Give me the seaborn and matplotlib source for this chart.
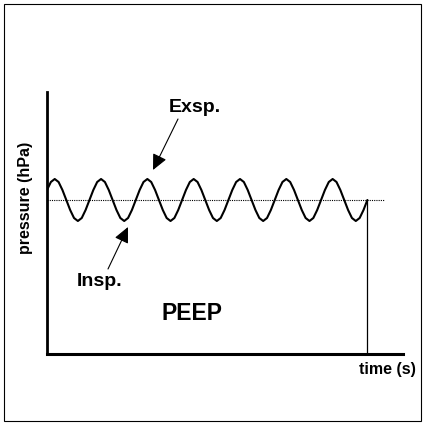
import matplotlib
matplotlib.use("Agg")
import matplotlib.pyplot as plt
import numpy as np
import pandas as pd
import seaborn as sns
from matplotlib.patches import Rectangle

# airway pressure samples, 12 per breath (hPa)
pressure = [16.4, 17.2,
            17.5, 17.2, 16.4, 15.4, 14.4, 13.6, 13.3, 13.6, 14.4, 15.4, 16.4, 17.2,
            17.5, 17.2, 16.4, 15.4, 14.4, 13.6, 13.3, 13.6, 14.4, 15.4, 16.4, 17.2,
            17.5, 17.2, 16.4, 15.4, 14.4, 13.6, 13.3, 13.6, 14.4, 15.4, 16.4, 17.2,
            17.5, 17.2, 16.4, 15.4, 14.4, 13.6, 13.3, 13.6, 14.4, 15.4, 16.4, 17.2,
            17.5, 17.2, 16.4, 15.4, 14.4, 13.6, 13.3, 13.6, 14.4, 15.4, 16.4, 17.2,
            17.5, 17.2, 16.4, 15.4, 14.4, 13.6, 13.3, 13.6, 14.4, 15.4, 16.4, 17.2,
            17.5, 17.2, 16.4, 15.4, 14.4, 13.6, 13.3, 13.6, 14.4, 15.4]
sample_step = 0.386          # s between samples
peep_level = 15.4            # hPa, dotted baseline
peep_end = 33.7              # s, where the dotted line stops
x_max = 35.6
y_max = 26.2

exsp_tip, exsp_tail, exsp_text = (10.6, 18.4), (13.1, 23.5), (14.8, 24.6)
insp_tip, insp_tail, insp_text = (8.1, 12.7), (6.1, 8.5), (5.3, 7.3)
peep_text = (14.5, 4.1)

time = np.arange(len(pressure)) * sample_step
df = pd.DataFrame({"time": time, "pressure": pressure})

sns.set_style("white")
plt.rcParams["font.family"] = ["Liberation Sans", "DejaVu Sans"]
plt.rcParams["font.weight"] = "bold"
plt.rcParams["text.color"] = "black"
plt.rcParams["axes.labelcolor"] = "black"

fig = plt.figure(figsize=(4.26, 4.25), dpi=100)
ax = fig.add_axes([47 / 426, 71 / 425, 356 / 426, 262 / 425])

sns.lineplot(data=df, x="time", y="pressure", color="black", lw=1.5, ax=ax)
ax.plot([0, peep_end], [peep_level, peep_level], color="black", lw=0.8,
        linestyle=(0, (1, 1)))
ax.plot([time[-1], time[-1]], [0, pressure[-1]], color="black", lw=0.9)

ax.set_xlim(0, x_max)
ax.set_ylim(0, y_max)
ax.set_xticks([])
ax.set_yticks([])
for side in ["top", "right"]:
    ax.spines[side].set_visible(False)
ax.spines["left"].set_linewidth(2)
ax.spines["bottom"].set_linewidth(2.2)
ax.spines["left"].set_color("black")
ax.spines["bottom"].set_color("black")

arrow = dict(arrowstyle="-|>,head_length=0.95,head_width=0.45",
             mutation_scale=10, color="black", lw=0.8,
             shrinkA=0, shrinkB=0)
ax.annotate("", xy=exsp_tip, xytext=exsp_tail, arrowprops=arrow)
ax.annotate("", xy=insp_tip, xytext=insp_tail, arrowprops=arrow)
ax.text(*exsp_text, "Exsp.", fontsize=14, fontweight="bold", ha="center", va="center")
ax.text(*insp_text, "Insp.", fontsize=14, fontweight="bold", ha="center", va="center")
ax.text(*peep_text, "PEEP", fontsize=16.5, fontweight="bold", ha="center", va="center")

ax.set_xlabel("time (s)", fontsize=11.5, fontweight="bold", va="center")
ax.xaxis.set_label_coords(0.955, -0.061)
ax.set_ylabel("pressure (hPa)", fontsize=11.5, fontweight="bold", va="center")
ax.yaxis.set_label_coords(-0.059, 0.595)

fig.patches.append(Rectangle((4 / 426, 4 / 425), 417 / 426, 417 / 425,
                             transform=fig.transFigure, fill=False,
                             edgecolor="black", lw=0.8))

fig.savefig("out.png", dpi=100)
